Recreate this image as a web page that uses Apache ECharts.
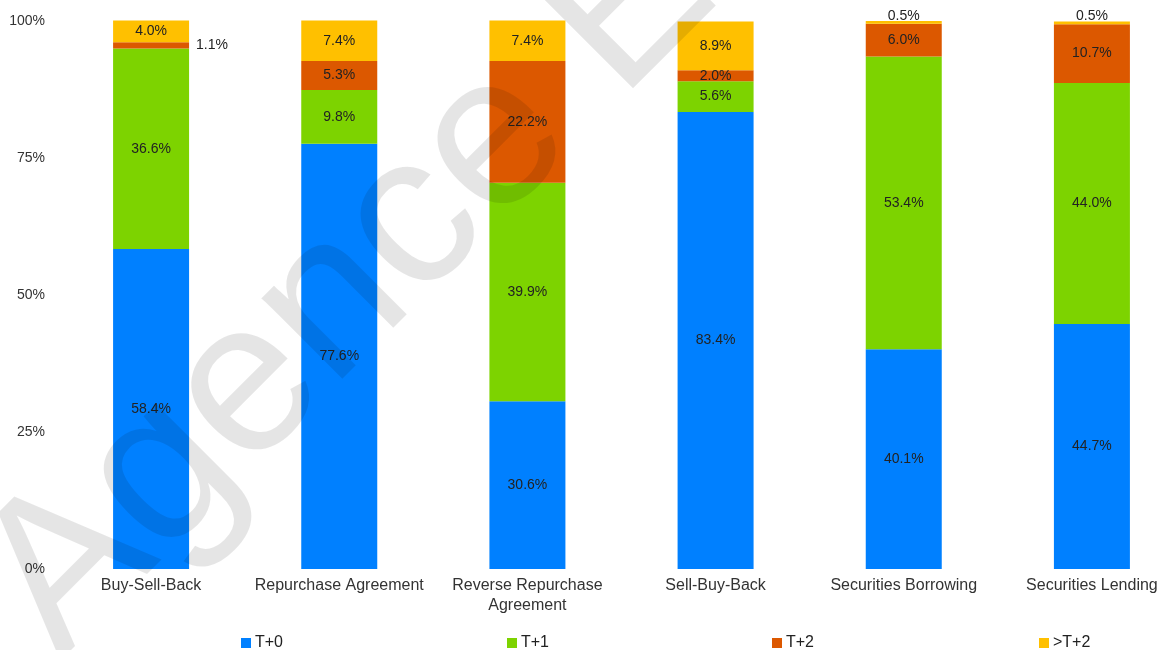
<!DOCTYPE html>
<html>
<head>
<meta charset="utf-8">
<script src="https://cdn.jsdelivr.net/npm/echarts@6/dist/echarts.min.js"></script>
<style>
html,body{margin:0;padding:0;background:#fff;}
#c{width:1162px;height:650px;}
</style>
</head>
<body>
<div id="c"></div>
<script>
var categories = ['Buy-Sell-Back', 'Repurchase Agreement', 'Reverse Repurchase\nAgreement', 'Sell-Buy-Back', 'Securities Borrowing', 'Securities Lending'];
var seriesNames = ['T+0', 'T+1', 'T+2', '>T+2'];
var t0 = [58.4, 77.6, 30.6, 83.4, 40.1, 44.7];
var t1 = [36.6, 9.8, 39.9, 5.6, 53.4, 44.0];
var t2 = [1.1, 5.3, 22.2, 2.0, 6.0, 10.7];
var t3 = [4.0, 7.4, 7.4, 8.9, 0.5, 0.5];
var yTicks = [0, 25, 50, 75, 100];

var colors = ['#0080FF', '#7DD300', '#DC5800', '#FFC000'];
var seriesValues = [t0, t1, t2, t3];

// label placement overrides: [seriesIndex, categoryIndex, position]
var labelOverrides = [[2, 0, 'right'], [3, 4, 'top'], [3, 5, 'top']];

function buildData(si) {
  return seriesValues[si].map(function (v, ci) {
    var item = { value: v };
    labelOverrides.forEach(function (o) {
      if (o[0] === si && o[1] === ci) {
        item.label = { position: o[2], distance: o[2] === 'top' ? -2 : 7 };
      }
    });
    return item;
  });
}

var series = seriesNames.map(function (name, si) {
  return {
    name: name,
    type: 'bar',
    stack: 'total',
    barWidth: 76,
    clip: false,
    itemStyle: { color: colors[si] },
    label: {
      show: true,
      position: 'inside',
      color: '#222',
      fontSize: 14,
      fontFamily: 'Liberation Sans, Arial, sans-serif',
      formatter: function (p) { return p.value.toFixed(1) + '%'; }
    },
    data: buildData(si)
  };
});

var legendLefts = [236, 502, 767, 1034];
var legends = seriesNames.map(function (n, i) {
  return {
    data: [n],
    left: legendLefts[i],
    top: 630,
    icon: 'rect',
    itemWidth: 10,
    itemHeight: 10,
    itemGap: 0,
    textStyle: { fontSize: 16, color: '#222', fontFamily: 'Liberation Sans, Arial, sans-serif', padding: [0, 0, 0, -1] },
    selectedMode: false
  };
});

var chart = echarts.init(document.getElementById('c'), null, { renderer: 'canvas' });
chart.setOption({
  animation: false,
  backgroundColor: '#fff',
  color: colors,
  grid: { left: 57, width: 1129, top: 21, bottom: 81, containLabel: false, outerBoundsMode: 'none' },
  legend: legends,
  xAxis: {
    type: 'category',
    data: categories,
    axisLine: { show: false },
    axisTick: { show: false },
    axisLabel: {
      margin: 7,
      fontSize: 16,
      lineHeight: 20,
      color: '#333',
      interval: 0,
      hideOverlap: false,
      fontFamily: 'Liberation Sans, Arial, sans-serif'
    }
  },
  yAxis: {
    type: 'value',
    min: yTicks[0],
    max: yTicks[yTicks.length - 1],
    interval: 25,
    splitLine: { show: false },
    axisLine: { show: false },
    axisTick: { show: false },
    axisLabel: {
      margin: 12,
      fontSize: 14,
      color: '#333',
      fontFamily: 'Liberation Sans, Arial, sans-serif',
      formatter: function (v) { return v + '%'; }
    }
  },
  graphic: [{
    type: 'text',
    x: 71,
    y: 672,
    rotation: Math.PI / 4,
    z: 100,
    silent: true,
    style: {
      x: 0,
      y: -75,
      text: 'Agence Europe',
      font: '216px "Liberation Sans", Arial, sans-serif',
      fill: 'rgba(0,0,0,0.1)',
      align: 'left',
      verticalAlign: 'middle'
    }
  }],
  series: series
});
</script>
</body>
</html>
